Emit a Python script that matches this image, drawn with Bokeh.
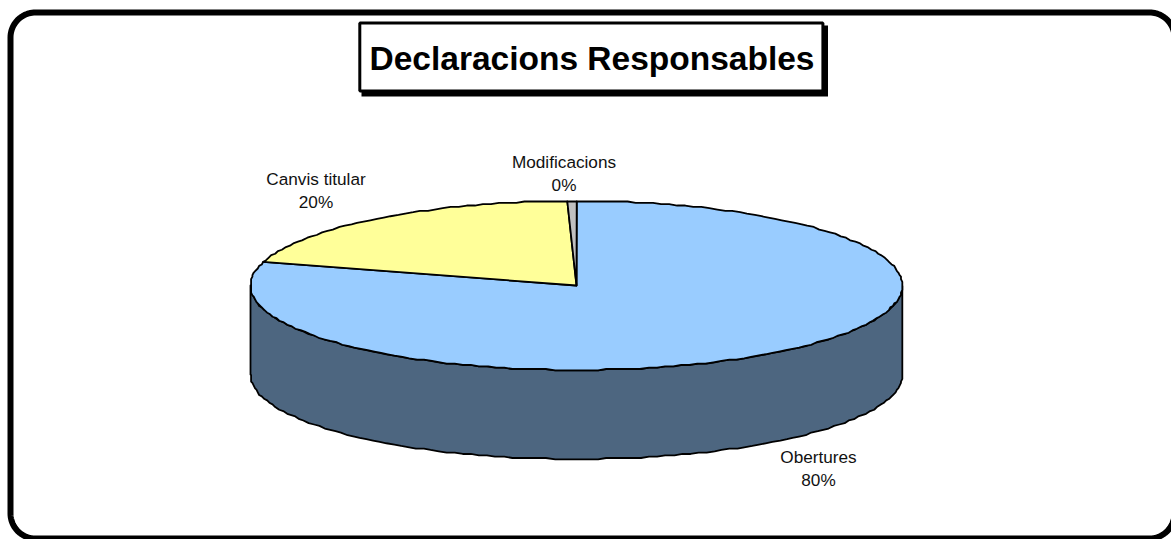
import numpy as np
from bokeh.plotting import figure
from bokeh.core.properties import value
from bokeh.embed import file_html
from bokeh.resources import INLINE

title_text = "Declaracions Responsables"
categories = ["Obertures", "Canvis titular", "Modificacions"]
shares = [79.5, 20.05, 0.45]
percent_labels = ["80%", "20%", "0%"]
slice_colors = ["#99CCFF", "#FFFF99", "#C0C0C0"]
wall_color = "#4D6680"

WIDTH, HEIGHT = 1171, 539
p = figure(width=WIDTH, height=HEIGHT, output_backend="svg", toolbar_location=None,
           x_range=(0, WIDTH), y_range=(HEIGHT, 0), min_border=0,
           x_axis_type=None, y_axis_type=None, outline_line_color=None,
           background_fill_color="white", border_fill_color="white")
p.grid.visible = False

# rounded outer frame
def rounded(x0, y0, x1, y1, r):
    t = np.linspace(0, np.pi / 2, 24)
    xs = np.r_[x0 + r - r * np.cos(t), x1 - r + r * np.sin(t),
               x1 - r + r * np.cos(t), x0 + r - r * np.sin(t)]
    ys = np.r_[y0 + r - r * np.sin(t), y0 + r - r * np.cos(t),
               y1 - r + r * np.sin(t), y1 - r + r * np.cos(t)]
    return xs, ys

fx, fy = rounded(10, 12, 1174, 538, 25)
p.patch(fx, fy, fill_color="white", line_color="black", line_width=6)

# pie geometry
cx, cy, rx, ry, depth = 576, 285, 326, 84.5, 89
GRID = 1.34   # the original outline is snapped to a coarse device grid
STEP = np.radians(1.5)

def snap(v):
    return np.round(np.asarray(v) / GRID) * GRID

# side wall (front half of the disc)
t = np.linspace(0, np.pi, int(np.pi / STEP) + 1)
wall_x = np.r_[snap(cx + rx * np.cos(t)), cx - rx, cx - rx, snap(cx + rx * np.cos(t[::-1]))]
wall_y = np.r_[snap(cy + ry * np.sin(t)) + depth, cy + depth, cy, snap(cy + ry * np.sin(t[::-1]))]
p.patch(wall_x, wall_y, fill_color=wall_color, line_color="black", line_width=1.8, line_join="round")

# top slices, clockwise from 12 o'clock
fractions = np.array(shares) / sum(shares)
edges = np.r_[0, np.cumsum(fractions)] * 2 * np.pi
sx, sy = [], []
for a, b in zip(edges[:-1], edges[1:]):
    ang = np.linspace(a, b, max(2, int((b - a) / STEP) + 1))
    sx.append(np.r_[cx, snap(cx + rx * np.sin(ang))])
    sy.append(np.r_[cy, snap(cy - ry * np.cos(ang))])
p.patches(sx, sy, fill_color=slice_colors, line_color="black", line_width=1.8, line_join="round")

# title box with shadow
p.quad(left=[361], right=[827.5], top=[25], bottom=[96], fill_color="black", line_color=None)
p.quad(left=[359.3], right=[822.4], top=[22.5], bottom=[90.5], fill_color="white", line_color="black", line_width=3)
p.text(x=[591.5], y=[58], text=[title_text], text_font=value("Liberation Sans"), text_font_size="33.5px",
       text_font_style="bold", text_color="black", text_align="center", text_baseline="middle")

# data labels
lx = [818, 315.5, 563.5]
ly = [456.5, 178.5, 161.5]
for name, pct, x, y in zip(categories, percent_labels, lx, ly):
    p.text(x=[x, x], y=[y, y + 23], text=[name, pct], text_font=value("Liberation Sans"), text_font_size="17.2px",
           text_color="#111111", text_align="center", text_baseline="middle")

open("out.html", "w").write(file_html(p, INLINE))
